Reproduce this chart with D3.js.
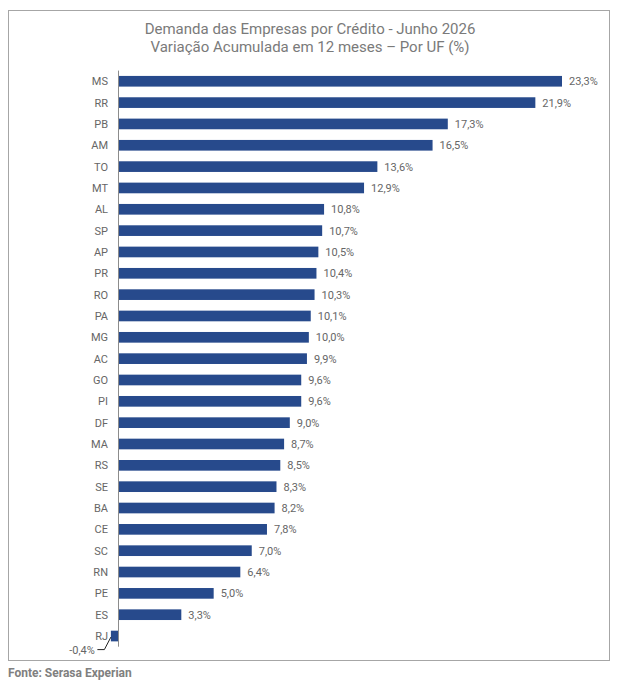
<!DOCTYPE html>
<html>
<head>
<meta charset="utf-8">
<script src="https://cdn.jsdelivr.net/npm/d3@7"></script>
<style>
  body { margin: 0; background: #fff; }
  text { font-family: Roboto, "Noto Sans", sans-serif; }
</style>
</head>
<body>
<script>
// estados e variação acumulada (%)
const ufs = ["MS","RR","PB","AM","TO","MT","AL","SP","AP","PR","RO","PA","MG","AC","GO","PI","DF","MA","RS","SE","BA","CE","SC","RN","PE","ES","RJ"];
const values = [23.3,21.9,17.3,16.5,13.6,12.9,10.8,10.7,10.5,10.4,10.3,10.1,10.0,9.9,9.6,9.6,9.0,8.7,8.5,8.3,8.2,7.8,7.0,6.4,5.0,3.3,-0.4];
const titleLines = ["Demanda das Empresas por Crédito - Junho 2026", "Variação Acumulada em 12 meses – Por UF (%)"];
const source = "Fonte: Serasa Experian";

const width = 621, height = 683;
const data = ufs.map((uf, i) => ({uf: uf, v: values[i]}));

const svg = d3.select("body").append("svg")
  .attr("width", width)
  .attr("height", height);

// moldura
svg.append("rect")
  .attr("x", 8.5).attr("y", 10.5)
  .attr("width", 601).attr("height", 650)
  .attr("fill", "none")
  .attr("stroke", "#a6a6a6");

svg.append("g").selectAll("text")
  .data(titleLines)
  .join("text")
  .attr("x", 310)
  .attr("y", (d, i) => 33.5 + i * 18.5)
  .attr("text-anchor", "middle")
  .attr("font-size", 15)
  .attr("fill", "#7a7a7a")
  .text(d => d);

const x = d3.scaleLinear()
  .domain([0, 23.3])
  .range([118.5, 562]);

const y = d3.scaleBand()
  .domain(ufs)
  .range([70.6, 646.7])
  .paddingInner(0.5)
  .paddingOuter(0.25);

const fmt = v => d3.format(".1f")(v).replace(".", ",").replace("\u2212", "-") + "%";

svg.append("g")
  .attr("fill", "#274a8c")
  .selectAll("rect")
  .data(data)
  .join("rect")
  .attr("x", d => x(Math.min(0, d.v)))
  .attr("y", d => y(d.uf))
  .attr("width", d => Math.abs(x(d.v) - x(0)))
  .attr("height", y.bandwidth());

// eixo vertical
svg.append("line")
  .attr("x1", x(0)).attr("x2", x(0))
  .attr("y1", 70.6).attr("y2", 646.7)
  .attr("stroke", "#8c8c8c");

// rótulos das UFs
svg.append("g").selectAll("text")
  .data(data)
  .join("text")
  .attr("x", 108)
  .attr("y", d => y(d.uf) + y.bandwidth() / 2)
  .attr("dy", "0.36em")
  .attr("text-anchor", "end")
  .attr("font-size", 11)
  .attr("fill", "#666")
  .text(d => d.uf);

// valores
const pos = data.filter(d => d.v >= 0);
svg.append("g").selectAll("text")
  .data(pos)
  .join("text")
  .attr("x", d => x(d.v) + 7)
  .attr("y", d => y(d.uf) + y.bandwidth() / 2)
  .attr("dy", "0.36em")
  .attr("font-size", 11)
  .attr("fill", "#666")
  .text(d => fmt(d.v));

// valor negativo com linha de chamada
const neg = data.filter(d => d.v < 0);
neg.forEach(d => {
  const bx = x(d.v), by = y(d.uf) + y.bandwidth() * 0.6;
  svg.append("polyline")
    .attr("points", [[bx, by], [bx - 6.5, by + 12.5], [bx - 13.5, by + 12.5]].map(p => p.join(",")).join(" "))
    .attr("fill", "none")
    .attr("stroke", "#222")
    .attr("stroke-width", 1);
  svg.append("text")
    .attr("x", bx - 16)
    .attr("y", by + 12.5)
    .attr("dy", "0.36em")
    .attr("text-anchor", "end")
    .attr("font-size", 11)
    .attr("fill", "#666")
    .text(fmt(d.v));
});

svg.append("text")
  .attr("x", 8)
  .attr("y", 677)
  .attr("font-size", 12)
  .attr("font-weight", "bold")
  .attr("fill", "#808080")
  .text(source);
</script>
</body>
</html>
